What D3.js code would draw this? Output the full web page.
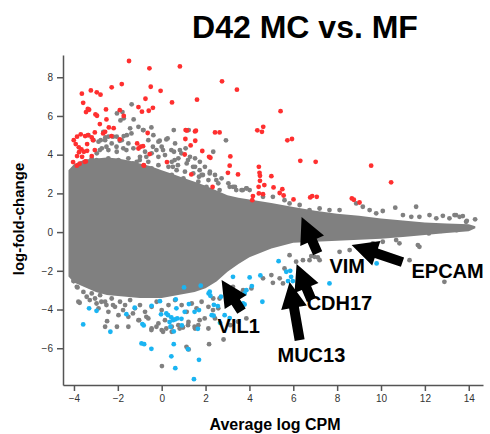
<!DOCTYPE html>
<html>
  <head>
    <meta charset="utf-8">
    <title>D42 MC vs. MF</title>
    <style>
      body { margin: 0; background: #fff; }
      svg text { font-family: "Liberation Sans", Arial, sans-serif; }
    </style>
  </head>
  <body>
    <div id="vis"></div>
    <script src="https://d3js.org/d3.v7.min.js"></script>
    <script>
    // axis ticks
    let xTicks = [-4, -2, 0, 2, 4, 6, 8, 10, 12, 14];
    let yTicks = [-6, -4, -2, 0, 2, 4, 6, 8];

    // envelope of the dense gray cloud (average log CPM vs upper / lower logFC)
    let coreX  = [-4.25, -4.0, -3.5, -3.0, -2.5, -2.0, -1.5, -1.0, -0.5, 0.0, 0.5, 1.0, 1.5, 2.0, 2.5, 3.0, 3.5, 4.0, 5.0, 6.0, 7.0, 8.0, 9.0, 10.0, 11.0, 12.0, 13.0, 14.0, 14.3];
    let coreHi = [3.2, 3.5, 3.75, 3.8, 3.85, 3.8, 3.7, 3.55, 3.4, 3.2, 3.0, 2.8, 2.6, 2.4, 2.15, 1.9, 1.78, 1.68, 1.5, 1.3, 1.1, 0.95, 0.85, 0.7, 0.6, 0.5, 0.45, 0.4, 0.3];
    let coreLo = [-2.3, -2.6, -2.85, -3.1, -3.25, -3.3, -3.35, -3.4, -3.4, -3.4, -3.3, -3.2, -3.1, -2.9, -2.55, -2.05, -1.65, -1.3, -0.85, -0.55, -0.5, -0.45, -0.4, -0.35, -0.25, -0.15, -0.05, 0.05, 0.2];

    // non significant genes outside the dense cloud
    let otherGenes = [
      [-1.37,6.60],[-2.04,6.13],[-1.79,6.20],[-1.73,5.88],[-1.88,5.77],[-1.28,5.82],[-0.85,5.27],[-0.47,5.41],[0.55,5.27],[1.23,5.27],
      [2.93,4.74],[-2.78,4.75],[-2.57,4.89],[-2.22,4.93],[-1.91,4.72],[-1.73,4.96],[-1.38,5.10],[-0.09,4.72],[0.21,4.79],[0.44,4.24],
      [0.56,4.15],[0.90,4.07],[-0.40,4.41],[-0.24,4.24],[0.06,4.24],[0.59,3.72],[0.74,3.46],[0.51,3.37],[1.20,3.72],[1.43,3.37],
      [1.73,3.20],[1.70,2.86],[1.88,2.95],[2.19,3.03],[2.04,2.34],[2.49,2.69],[2.64,2.17],[3.10,2.34],[3.40,2.17],[3.86,2.26],
      [-1.00,3.72],[-0.70,3.89],[-1.31,3.55],[-1.61,4.24],[-2.06,4.41],[-2.52,4.41],[-2.82,4.24],[-2.37,3.72],[-2.97,3.72],[-3.28,3.55],
      [-3.34,5.01],[-3.11,4.75],[-2.88,4.67],[-2.58,4.75],[-2.28,4.58],[-2.05,4.93],[-1.82,4.75],[-1.59,5.01],[-1.44,5.36],[-1.06,5.44],
      [-0.83,5.27],[-0.61,4.75],[-0.38,5.01],[-0.15,4.67],[0.00,4.41],[0.27,4.84],[0.61,4.58],[0.83,4.24],[1.09,4.33],[1.29,3.89],
      [1.52,3.81],[1.74,3.63],[1.97,3.37],[2.20,3.12],[2.43,2.95],[2.73,2.78],[3.04,2.52],[3.34,2.34],[3.64,2.17],[3.87,2.26],
      [2.35,4.15],[1.52,3.37],[1.14,3.55],[0.76,3.81],[0.46,3.63],[0.15,3.98],[-0.15,3.89],[-0.46,4.07],[-0.76,4.15],[-0.99,3.89],
      [-1.29,4.33],[-1.52,4.58],[-1.75,4.33],[-2.05,4.15],[-2.43,4.24],[-2.73,4.33],[-2.96,4.07],[-3.19,3.81],[-2.88,3.63],[-2.43,3.81],
      [-1.97,3.72],[-1.52,3.81],[-1.14,3.63],[-0.61,3.63],[-0.15,3.46],[0.31,3.37],[0.68,3.20],[1.06,3.12],[1.44,3.03],[1.82,2.95],
      [2.13,2.69],[2.58,2.52],[0.99,2.78],[1.67,2.60],[0.46,2.95],[-2.66,5.18],[-2.43,4.93],[-3.64,3.55],[-3.42,3.46],[-3.04,3.37],
      [-2.51,3.37],[-1.82,3.37],[-1.06,3.29],[-0.46,3.29],
      [11.60,1.31],[10.65,1.26],[10.08,1.09],[9.78,0.97],[11.00,0.88],[11.38,0.79],[11.75,0.79],[12.21,0.88],[12.52,0.71],[12.82,0.84],
      [13.12,0.71],[13.35,0.88],[13.58,0.79],[13.91,0.58],[14.29,0.66],[13.45,0.10],[13.12,0.19],[12.74,0.07],[12.18,-0.07],[11.75,-0.76],
      [10.84,-0.58],[9.17,1.31],[9.48,1.14],[8.87,1.48],[8.11,1.14],[7.65,1.14],[7.20,1.22],[6.74,1.14],[6.29,1.40],[5.07,1.82],
      [4.62,1.82],[4.01,2.17],[3.70,2.17],[3.25,2.34],[5.60,1.65],[5.83,1.48],[11.30,-1.45],[12.89,-2.57],[13.35,0.19],[13.88,0.53],
      [13.42,0.88],[13.73,0.83],[11.68,-0.67],
      [-4.01,-2.53],[-3.84,-2.86],[-3.74,-3.65],[-3.28,-3.51],[-2.97,-3.69],[-2.75,-3.60],[-2.52,-3.77],[-2.22,-3.77],[-2.49,-4.60],[-2.04,-4.89],
      [-1.76,-4.03],[-1.31,-4.20],[-1.03,-4.55],[-0.70,-4.38],[-0.47,-5.06],[-0.24,-4.89],[0.06,-5.15],[0.01,-6.92],[0.21,-4.98],[0.82,-4.98],
      [0.97,-4.93],[1.13,-5.93],[1.23,-6.06],[1.50,-4.89],[1.20,-4.81],[1.73,-4.55],[1.96,-4.46],[2.34,-4.03],[2.16,-5.79],[2.82,-5.55],
      [3.13,-4.81],[3.48,-4.63],[3.86,-4.46],[3.71,-3.00],[3.25,-2.83],[2.64,-3.43],[4.09,-2.91],[4.62,-2.39],[5.00,-2.22],[5.07,-2.62],
      [5.38,-2.39],[5.60,-1.88],[6.74,-1.45],[6.97,-1.28],[7.20,-1.45],[5.53,-2.65],[7.12,-1.31],[6.82,-1.24],[6.44,-1.45],[6.13,-1.53],
      [5.83,-1.19],[8.11,-1.02],[8.57,-0.93],[9.17,-0.76],[9.63,-0.58],[10.08,-0.50],[10.69,-0.41],
      [-4.02,-2.53],[-3.87,-2.83],[-3.57,-3.09],[-3.42,-3.34],[-3.80,-3.60],[-3.19,-3.17],[-3.04,-3.43],[-2.81,-3.26],[-2.58,-3.60],[-2.28,-3.43],
      [-2.13,-3.86],[-1.90,-3.60],[-1.67,-3.77],[-1.44,-3.51],[-1.22,-3.94],[-0.99,-3.77],[-0.76,-4.12],[-0.46,-3.86],[-0.23,-3.60],[0.00,-4.03],
      [0.31,-3.77],[0.61,-3.51],[0.91,-3.77],[1.14,-4.12],[1.37,-3.69],[1.59,-3.94],[1.82,-3.60],[2.13,-3.86],[2.35,-3.43],[2.58,-3.94],
      [-2.88,-3.94],[-2.43,-4.12],[-1.97,-4.29],[-1.52,-4.38],[-1.06,-4.55],[-0.61,-4.46],[-0.15,-4.72],[0.15,-4.55],[0.46,-4.89],[0.76,-4.81],
      [1.22,-4.64],[1.67,-4.81],[2.13,-4.98],[2.43,-4.46],[-2.58,-4.89],[-1.52,-4.89],[-0.46,-4.98],[0.00,-5.06],[0.46,-5.15],[1.52,-4.98]
    ];

    // up regulated genes (red)
    let upGenes = [
      [-1.49,8.84],[-0.56,8.46],[0.83,8.56],[2.75,7.79],[3.43,7.36],
      [-3.64,7.15],[-3.23,7.32],[-2.96,7.22],[-2.79,7.10],[-2.28,7.48],[-1.82,7.65],[-0.50,7.51],[-0.05,7.30],
      [-3.58,6.68],[0.47,6.70],[1.61,6.84],[-0.74,6.89],
      [-3.37,6.36],[-3.31,6.32],[-3.45,6.20],[-3.02,6.08],[-2.95,6.01],[-2.54,6.34],
      [-1.06,6.46],[-0.90,6.22],[-0.59,6.27],[-0.40,6.42],[-1.91,6.30],[-1.73,6.00],
      [-2.82,5.58],[-2.52,5.82],[-2.19,5.37],[-2.41,5.41],[-3.05,5.15],[-2.67,5.10],[-2.58,5.18],
      [-0.64,5.12],[1.09,5.27],[1.15,5.25],[1.52,5.20],[2.43,5.15],[2.64,5.15],
      [-4.01,4.75],[-3.86,4.93],[-3.69,5.05],[-3.49,4.96],[-3.36,5.01],[-3.19,4.89],
      [-3.92,4.55],[-3.78,4.38],[-3.66,4.27],[-3.55,4.15],[-3.77,4.13],[-3.40,4.20],[-3.86,3.93],[-3.63,3.89],
      [-3.46,3.65],[-3.19,3.93],[-3.40,4.55],[-3.05,4.24],[-4.04,3.62],[-3.87,3.43],[-3.74,3.53],
      [-1.12,4.58],[-0.97,4.41],[-0.85,4.44],[-1.06,4.32],[-0.81,3.43],[-0.55,4.03],[0.24,3.62],[-1.91,4.79],
      [1.35,2.98],[1.85,4.19],[2.16,3.89],[2.22,3.84],[3.13,3.91],[3.10,3.43],[3.02,3.06],[3.48,2.98],[2.32,2.33],
      [1.53,4.72],[1.08,4.81],[1.32,4.48],[1.05,4.01],[1.56,5.24],
      [5.42,6.25],[4.36,5.26],[4.63,5.44],[4.57,5.18],[5.73,4.74],[5.94,4.81],
      [6.32,3.68],[7.02,3.63],[9.55,3.43],[10.46,2.57],[4.43,3.37],[4.46,3.06],[4.48,2.91],[4.48,2.65],[5.00,2.89],
      [4.42,2.34],[4.68,2.43],[5.10,2.31],[4.43,2.00],[4.62,1.96],[5.50,2.22],[5.38,2.02],[5.56,1.89],[4.16,1.86],
      [4.13,1.65],[6.01,1.69],[6.77,1.79],[6.86,1.86],[7.07,1.82],[8.67,1.74],[8.76,1.67],[9.02,1.53],
      [-0.82,3.46],[-2.29,4.96],[-3.13,4.75],[-3.51,3.63]
    ];

    // down regulated genes (blue)
    let downGenes = [
      [-3.58,-4.77],[-3.31,-3.94],[-2.97,-4.07],[-2.34,-5.15],[-1.61,-4.24],[-1.23,-3.91],[-0.88,-4.75],[-0.82,-4.82],
      [-0.92,-5.75],[-0.80,-5.79],[-0.47,-6.03],[-0.46,-3.81],[-0.08,-3.57],[-0.03,-4.25],[0.21,-4.20],[0.29,-4.29],
      [0.44,-4.41],[0.36,-4.65],[0.52,-4.55],[0.61,-4.51],[0.71,-4.46],[0.90,-4.48],[0.67,-3.94],[0.64,-3.48],
      [0.40,-4.89],[0.55,-5.13],[0.92,-4.82],[0.55,-5.79],[0.44,-6.42],[0.62,-7.03],[1.20,-6.05],[1.47,-7.60],
      [1.70,-6.60],[1.05,-4.12],[1.02,-2.86],[1.24,-3.72],[1.50,-4.12],[1.70,-4.03],[1.78,-2.77],[1.65,-5.00],
      [2.14,-3.17],[2.22,-3.29],[2.19,-3.08],[2.28,-4.29],[2.37,-4.32],[2.38,-3.76],[2.56,-3.82],[2.70,-3.34],
      [2.87,-4.29],[2.66,-4.69],[3.10,-4.44],[3.25,-2.31],[3.86,-3.00],[3.78,-3.74],[4.01,-2.34],[4.11,-2.79],
      [4.50,-2.24],[4.59,-3.60],[3.78,-3.17],[3.71,-3.69],[5.33,-1.50],[5.68,-2.05],[5.86,-2.00],[5.90,-2.31],
      [5.76,-2.53],[5.98,-2.53],[7.65,-2.65],[9.80,-1.62]
    ];

    // annotated genes: label position and arrow tail -> tip, in data units
    let geneNames = ["VIM", "EPCAM", "CDH17", "MUC13", "VIL1"];
    let labelPos  = [[7.65,-2.12], [11.39,-2.38], [6.61,-4.03], [5.28,-6.72], [2.55,-5.22]];
    let arrowTail = [[7.11,-1.09], [10.98,-1.55], [6.83,-3.51], [6.29,-5.58], [3.64,-4.08]];
    let arrowTip  = [[6.38,0.78], [8.66,-0.67], [6.15,-1.65], [5.83,-2.58], [2.73,-2.48]];

    let w = 490, h = 434;
    let svg = d3.select("#vis").append("svg")
                .attr("width", w)
                .attr("height", h);

    let x = d3.scaleLinear().domain([-4.5, 14.65]).range([63, 483]);
    let y = d3.scaleLinear().domain([-7.9, 9.15]).range([385, 55]);

    let gray = "#808080", red = "#ff2f2f", blue = "#1ab4f2";

    // dense cloud
    let core = coreX.map(function(v, i) { return {x: v, hi: coreHi[i], lo: coreLo[i]}; });
    svg.append("path")
       .datum(core)
       .attr("d", d3.area()
                    .x(function(d) { return x(d.x); })
                    .y0(function(d) { return y(d.lo); })
                    .y1(function(d) { return y(d.hi); })
                    .curve(d3.curveLinear))
       .style("fill", gray);

    function dots(data, color) {
      svg.append("g").selectAll("circle")
         .data(data)
         .enter().append("circle")
         .attr("cx", function(d) { return x(d[0]); })
         .attr("cy", function(d) { return y(d[1]); })
         .attr("r", 2.4)
         .style("fill", color);
    }
    dots(otherGenes, gray);
    dots(upGenes, red);
    dots(downGenes, blue);

    // axes
    let xAxis = svg.append("g")
       .attr("transform", "translate(0," + y.range()[0] + ")")
       .call(d3.axisBottom(x).tickValues(xTicks).tickSize(6).tickSizeOuter(0).tickPadding(4));
    let yAxis = svg.append("g")
       .attr("transform", "translate(" + x.range()[0] + ",0)")
       .call(d3.axisLeft(y).tickValues(yTicks).tickSize(6).tickSizeOuter(0).tickPadding(4));
    [xAxis, yAxis].forEach(function(a) {
      a.selectAll("path, line").style("stroke", "#555").style("stroke-width", 1.5);
      a.selectAll("text").style("font-size", "10px").style("fill", "#333")
       .style("font-family", "'Liberation Sans', Arial, sans-serif");
    });

    // arrows
    function arrowPath(t, p) {
      let x0 = x(t[0]), y0 = y(t[1]), x1 = x(p[0]), y1 = y(p[1]);
      let dx = x1 - x0, dy = y1 - y0, len = Math.sqrt(dx*dx + dy*dy);
      let ux = dx/len, uy = dy/len, nx = -uy, ny = ux;
      let hl = 26, hw = 13, sw = 5;
      let bx = x1 - ux*hl, by = y1 - uy*hl;
      let pts = [
        [x0 + nx*sw, y0 + ny*sw], [bx + nx*sw, by + ny*sw], [bx + nx*hw, by + ny*hw],
        [x1, y1],
        [bx - nx*hw, by - ny*hw], [bx - nx*sw, by - ny*sw], [x0 - nx*sw, y0 - ny*sw]
      ];
      return "M" + pts.map(function(q) { return q[0].toFixed(1) + "," + q[1].toFixed(1); }).join("L") + "Z";
    }
    geneNames.forEach(function(g, i) {
      svg.append("path").attr("d", arrowPath(arrowTail[i], arrowTip[i])).style("fill", "#000");
      svg.append("text")
         .attr("x", x(labelPos[i][0]))
         .attr("y", y(labelPos[i][1]))
         .style("font-size", "20px")
         .style("font-weight", "bold")
         .text(g);
    });

    // titles
    svg.append("text")
       .attr("x", 305).attr("y", 38)
       .attr("text-anchor", "middle")
       .style("font-size", "32px").style("font-weight", "bold")
       .text("D42 MC vs. MF");
    svg.append("text")
       .attr("x", 275).attr("y", 430)
       .attr("text-anchor", "middle")
       .style("font-size", "16px").style("font-weight", "bold")
       .text("Average log CPM");
    svg.append("text")
       .attr("transform", "translate(24,219) rotate(-90)")
       .attr("text-anchor", "middle")
       .style("font-size", "15px").style("font-weight", "bold")
       .text("log-fold-change");
    </script>
  </body>
</html>
